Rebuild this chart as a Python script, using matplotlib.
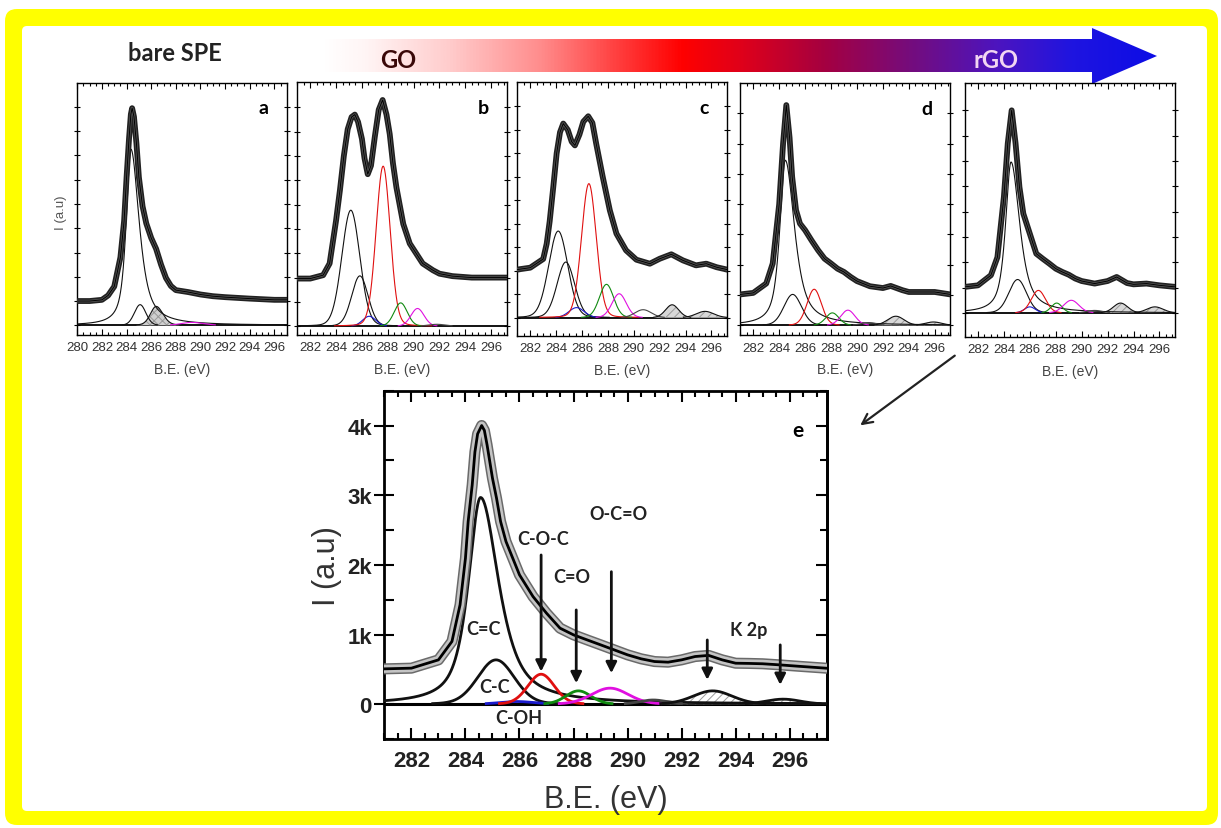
import numpy as np
import matplotlib
matplotlib.use("Agg")
import matplotlib.pyplot as plt
from matplotlib.patches import FancyBboxPatch, Polygon
from matplotlib.colors import LinearSegmentedColormap
from matplotlib.ticker import MultipleLocator

plt.rcParams['font.family'] = ['Liberation Sans', 'DejaVu Sans']
plt.rcParams['hatch.linewidth'] = 0.7

W, H = 1221, 829

# ---------------- data ----------------
# measured C1s envelopes: binding energy (eV) / intensity (panel units)
a_env_x = [280, 281, 282, 282.5, 283, 283.5, 283.8, 284, 284.2, 284.35, 284.45, 284.6, 284.8, 285,
           285.3, 285.6, 286, 286.4, 286.8, 287.2, 287.6, 288, 289, 290, 291, 292, 294, 296, 297]
a_env_y = [1.0, 1.0, 1.05, 1.23, 1.6, 2.8, 4.3, 6.1, 7.7, 8.7, 8.95, 8.6, 7.5, 6.1,
           4.9, 4.2, 3.6, 3.15, 2.5, 1.95, 1.62, 1.45, 1.37, 1.27, 1.2, 1.16, 1.1, 1.05, 1.05]

b_env_x = [281, 282, 283, 283.5, 284, 284.3, 284.6, 284.9, 285.2, 285.45, 285.7, 286, 286.2, 286.45,
           286.7, 287, 287.3, 287.6, 287.9, 288.15, 288.4, 288.67, 289.2, 289.7, 290.7, 291.5, 292,
           293, 294.5, 296, 297.2]
b_env_y = [1.96, 1.96, 2.1, 2.58, 4.35, 5.6, 7.0, 8.1, 8.6, 8.7, 8.4, 7.7, 6.9, 6.25,
           6.6, 7.8, 8.9, 9.3, 8.7, 7.9, 6.7, 5.7, 4.2, 3.4, 2.58, 2.3, 2.16,
           2.06, 2.0, 2.0, 2.0]

c_env_x = [281, 282, 283, 283.27, 283.5, 283.78, 284.04, 284.3, 284.55, 284.9, 285.2, 285.45, 285.8,
           286.1, 286.48, 286.8, 287.1, 287.6, 288.15, 288.66, 289.4, 290.2, 291.24, 292, 292.9,
           293.8, 294.8, 295.6, 296.4, 297.2]
c_env_y = [2.05, 2.13, 2.5, 3.15, 4.1, 5.57, 7.0, 7.9, 8.27, 8.0, 7.5, 7.34, 7.8,
           8.35, 8.58, 8.3, 7.4, 6.0, 4.57, 3.58, 2.87, 2.47, 2.3, 2.51, 2.7,
           2.44, 2.23, 2.3, 2.15, 2.05]

d_env_x = [281, 282, 283, 283.5, 284, 284.3, 284.55, 284.8, 285, 285.3, 285.6, 286, 286.5, 287,
           287.5, 288, 288.5, 289, 289.5, 290, 291, 292, 292.6, 293.5, 294, 295, 296, 297.2]
d_env_y = [1.02, 1.07, 1.38, 2.04, 4.0, 6.0, 7.27, 6.2, 4.9, 3.8, 3.36, 3.14, 2.8, 2.48,
           2.2, 2.04, 1.87, 1.76, 1.6, 1.46, 1.29, 1.23, 1.3, 1.16, 1.1, 1.1, 1.1, 1.02]

f_env_x = [281, 282, 283, 283.5, 284, 284.3, 284.6, 284.9, 285.2, 285.5, 286, 286.5, 287, 287.5,
           288, 288.5, 289, 289.5, 290, 291, 292, 292.7, 293.5, 294, 295, 296, 297.2]
f_env_y = [1.03, 1.09, 1.49, 2.2, 4.58, 6.7, 8.0, 6.7, 4.97, 3.92, 3.13, 2.34, 2.14, 1.95,
           1.75, 1.62, 1.51, 1.36, 1.26, 1.16, 1.26, 1.42, 1.18, 1.13, 1.16, 1.09, 1.03]

e_env_x = [281, 282, 283, 283.5, 283.8, 284, 284.1, 284.25, 284.35, 284.45, 284.6, 284.7, 284.8,
           284.9, 285, 285.15, 285.3, 285.5, 286, 286.5, 287, 287.5, 288, 288.5, 289, 289.5, 290,
           290.5, 291, 291.5, 292, 292.5, 293, 293.5, 294, 294.5, 295, 295.6, 296.3, 297.37]
e_env_y = [507, 517, 636, 900, 1426, 2096, 2622, 3148, 3620, 3880, 4000, 3930, 3722,
           3483, 3244, 2957, 2622, 2335, 1856, 1545, 1306, 1091, 995, 923, 852, 780, 708,
           651, 612, 603, 636, 684, 700, 636, 588, 585, 580, 565, 545, 516]

# fitted components: kind, centre (eV), height, left/right half widths, lorentz fraction
a_kind = ['C=C', 'C-C', 'shade', 'O-C=O']
a_pos = [284.35, 285.1, 286.4, 289.3]
a_height = [7.26, 0.85, 0.78, 0.12]
a_hwl = [0.45, 0.55, 0.55, 1.0]
a_hwr = [0.8, 0.55, 0.65, 1.1]
a_eta = [0.75, 0.1, 0.2, 0.2]

b_kind = ['C=C', 'C-C', 'C-OH', 'C-O-C', 'C=O', 'O-C=O', 'pi']
b_pos = [285.14, 285.84, 286.56, 287.64, 289.0, 290.3, 291.8]
b_height = [4.77, 2.07, 0.41, 6.58, 0.96, 0.73, 0.08]
b_hwl = [0.82, 0.75, 0.6, 0.64, 0.6, 0.6, 0.8]
b_hwr = [0.82, 0.75, 0.6, 0.64, 0.6, 0.6, 0.8]
b_eta = [0.1, 0.1, 0.1, 0.1, 0.1, 0.1, 0.1]

c_kind = ['C=C', 'C-C', 'C-OH', 'C-O-C', 'C=O', 'O-C=O', 'pi', 'K2p', 'K2p']
c_pos = [284.16, 284.75, 285.58, 286.53, 287.89, 288.87, 290.72, 292.96, 295.5]
c_height = [3.69, 2.37, 0.43, 5.71, 1.42, 1.02, 0.34, 0.55, 0.27]
c_hwl = [0.87, 0.8, 0.7, 0.67, 0.65, 0.65, 0.75, 0.6, 0.8]
c_hwr = [0.87, 0.8, 0.7, 0.67, 0.65, 0.65, 0.75, 0.6, 0.8]
c_eta = [0.1, 0.1, 0.1, 0.1, 0.1, 0.1, 0.1, 0.1, 0.1]

d_kind = ['C=C', 'C-C', 'C-O-C', 'C=O', 'O-C=O', 'pi', 'K2p', 'K2p']
d_pos = [284.47, 285.04, 286.7, 288.1, 289.3, 290.9, 293.0, 295.9]
d_height = [5.45, 1.02, 1.19, 0.41, 0.5, 0.09, 0.3, 0.11]
d_hwl = [0.5, 0.8, 0.65, 0.6, 0.65, 0.7, 0.75, 0.75]
d_hwr = [0.85, 0.8, 0.65, 0.6, 0.65, 0.7, 0.75, 0.75]
d_eta = [0.75, 0.1, 0.1, 0.1, 0.1, 0.1, 0.1, 0.1]

f_kind = ['C=C', 'C-C', 'C-OH', 'C-O-C', 'C=O', 'O-C=O', 'pi', 'K2p', 'K2p']
f_pos = [284.55, 285.06, 286.0, 286.66, 288.07, 289.2, 291.0, 293.0, 295.65]
f_height = [5.96, 1.32, 0.24, 0.89, 0.39, 0.5, 0.1, 0.39, 0.24]
f_hwl = [0.5, 0.8, 0.5, 0.65, 0.5, 0.7, 0.7, 0.65, 0.75]
f_hwr = [0.8, 0.8, 0.5, 0.65, 0.5, 0.7, 0.7, 0.65, 0.75]
f_eta = [0.75, 0.1, 0.1, 0.1, 0.1, 0.1, 0.1, 0.1, 0.1]

e_kind = ['C=C', 'C-C', 'C-OH', 'C-O-C', 'C=O', 'O-C=O', 'pi', 'K2p', 'K2p']
e_pos = [284.56, 285.13, 285.9, 286.8, 288.18, 289.35, 290.95, 293.15, 295.76]
e_height = [2967, 636, 38, 430, 191, 230, 60, 191, 72]
e_hwl = [0.54, 0.8, 0.75, 0.58, 0.55, 0.8, 0.6, 0.85, 0.75]
e_hwr = [0.8, 0.8, 0.75, 0.58, 0.55, 0.8, 0.6, 0.85, 0.75]
e_eta = [0.75, 0.1, 0.1, 0.1, 0.1, 0.1, 0.1, 0.1, 0.1]

# peak labels and marker arrows of panel e
e_labels = ['C=C', 'C-C', 'C-OH', 'C-O-C', 'C=O', 'O-C=O', 'K 2p']
e_label_x = [284.66, 285.09, 285.96, 286.88, 287.93, 289.66, 294.47]
e_label_y = [1090, 252, -192, 2382, 1831, 2740, 1076]
e_arrow_x = [286.8, 288.1, 289.4, 292.95, 295.65]
e_arrow_top = [2142, 1353, 1902, 922, 851]
e_arrow_tip = [468, 301, 445, 349, 277]

KIND_COLOR = {'C=C': '#111111', 'C-C': '#111111', 'C-OH': '#1a1acc', 'C-O-C': '#e01010',
              'C=O': '#108a10', 'O-C=O': '#e010e0', 'pi': '#444444', 'K2p': '#111111',
              'shade': '#111111'}


def peak(x, c, h, hl, hr, eta):
    hw = np.where(x < c, hl, hr)
    t = (x - c) / hw
    return h * (eta / (1 + t ** 2) + (1 - eta) * np.exp(-np.log(2) * t ** 2))


def px_rect(x0, y0, x1, y1):
    return [x0 / W, 1 - y1 / H, (x1 - x0) / W, (y1 - y0) / H]


def draw_spectrum(ax, env_x, env_y, kind, pos, height, hwl, hwr, eta, xlim, big=False):
    x = np.linspace(xlim[0], xlim[1], 1200)
    ymax = max(env_y)
    ax.axhline(0, color='k', lw=2.2 if big else 1.3, zorder=1)
    for k, c, h, l, r, e in zip(kind, pos, height, hwl, hwr, eta):
        y = peak(x, c, h, l, r, e)
        m = y > 0.002 * ymax
        if k == 'K2p':
            ax.fill_between(x[m], 0, y[m], facecolor='white' if big else '#d8d8d8',
                            hatch='////', edgecolor='#999999', lw=0, zorder=2)
        elif k == 'shade':
            ax.fill_between(x[m], 0, y[m], facecolor='#cfcfcf', hatch='xxxx',
                            edgecolor='#999999', lw=0, zorder=2)
        ax.plot(x[m], y[m], color=KIND_COLOR[k], lw=2.0 if big else 0.8, zorder=3)
    if big:
        ax.plot(env_x, env_y, color='#6a6a6a', lw=8, zorder=4)
        ax.plot(env_x, env_y, color='#c4c4c4', lw=5.8, zorder=4)
        ax.plot(env_x, env_y, color='k', lw=2.0, zorder=5)
    else:
        ax.plot(env_x, env_y, color='#222222', lw=4.2, zorder=4)
        ax.plot(env_x, env_y, color='#555555', lw=1.8, zorder=4)
        ax.plot(env_x, env_y, color='k', lw=0.7, zorder=5)
    ax.set_xlim(*xlim)


fig = plt.figure(figsize=(W / 100, H / 100), dpi=100)

# background frame, title arrow
bg = fig.add_axes([0, 0, 1, 1])
bg.axis('off')
bg.add_patch(FancyBboxPatch((5, 10), 1213, 816, boxstyle='round,pad=0,rounding_size=12',
                            fc='#ffff00', ec='none', zorder=0))
bg.add_patch(FancyBboxPatch((22, 27), 1185, 785, boxstyle='round,pad=0,rounding_size=5',
                            fc='white', ec='none', zorder=0.5))
stops = [(0.0, (1, 1, 1)), (0.05, (1, 0.96, 0.96)), (0.15, (1, 0.8, 0.8)), (0.26, (1, 0.55, 0.55)),
         (0.36, (1, 0.22, 0.22)), (0.43, (1, 0, 0)), (0.5, (0.88, 0, 0.1)), (0.6, (0.65, 0, 0.25)),
         (0.71, (0.45, 0.05, 0.5)), (0.81, (0.3, 0.08, 0.75)), (0.9, (0.12, 0.08, 0.88)),
         (1.0, (0.05, 0.05, 0.9))]
cmap = LinearSegmentedColormap.from_list('go_rgo', stops)
arrow_poly = Polygon([(323, 40), (1092, 40), (1092, 29), (1157, 57), (1092, 85), (1092, 73), (323, 73)],
                     closed=True, fc='none', ec='none')
bg.add_patch(arrow_poly)
im = bg.imshow(np.linspace(0, 1, 512)[None, :], cmap=cmap, extent=(323, 1157, 85, 29),
               aspect='auto', interpolation='bilinear', zorder=2)
im.set_clip_path(arrow_poly)
bg.set_xlim(0, W)
bg.set_ylim(H, 0)
bg.text(175, 53, 'bare SPE', fontsize=17, fontweight='bold', family=['Lato', 'DejaVu Sans'],
        color='#222222', ha='center', va='center', zorder=3)
bg.text(398, 60, 'GO', fontsize=17, fontweight='bold', family=['Lato', 'DejaVu Sans'],
        color='#3a0808', ha='center', va='center', zorder=3)
bg.text(996, 60, 'rGO', fontsize=17, fontweight='bold', family=['Lato', 'DejaVu Sans'],
        color='#f2d6f2', ha='center', va='center', zorder=3)
bg.text(61, 213, 'I (a.u)', fontsize=9.5, color='#555555', rotation=90, ha='center', va='center')
bg.annotate('', xy=(858, 428), xytext=(957, 355),
            arrowprops=dict(arrowstyle='->', color='#222222', lw=1.6, mutation_scale=18))

# five small panels
small = [
    (px_rect(77.3, 83.7, 286.7, 336), (280, 297), (-0.4, 10.0), 'a',
     a_env_x, a_env_y, a_kind, a_pos, a_height, a_hwl, a_hwr, a_eta),
    (px_rect(297.3, 83, 506.7, 336), (281, 297.2), (-0.36, 10.04), 'b',
     b_env_x, b_env_y, b_kind, b_pos, b_height, b_hwl, b_hwr, b_eta),
    (px_rect(517.3, 83, 727.0, 337), (281, 297.2), (-0.78, 10.04), 'c',
     c_env_x, c_env_y, c_kind, c_pos, c_height, c_hwl, c_hwr, c_eta),
    (px_rect(740.3, 84, 950.3, 336.3), (281, 297.2), (-0.33, 8.0), 'd',
     d_env_x, d_env_y, d_kind, d_pos, d_height, d_hwl, d_hwr, d_eta),
    (px_rect(965, 84, 1175, 338), (281, 297.2), (-0.95, 9.08), '',
     f_env_x, f_env_y, f_kind, f_pos, f_height, f_hwl, f_hwr, f_eta),
]
for rect, xlim, ylim, letter, ex, ey, kd, ps, ht, hl, hr, et in small:
    ax = fig.add_axes(rect)
    draw_spectrum(ax, ex, ey, kd, ps, ht, hl, hr, et, xlim)
    ax.set_ylim(*ylim)
    ax.set_yticks(range(0, int(ylim[1])))
    ax.xaxis.set_major_locator(MultipleLocator(2))
    ax.xaxis.set_minor_locator(MultipleLocator(0.5))
    ax.tick_params(axis='x', which='both', direction='in', top=True, bottom=True,
                   labelsize=9.5, labelcolor='#333333', pad=4.5, width=0.8)
    ax.tick_params(axis='x', which='major', length=4)
    ax.tick_params(axis='x', which='minor', length=2.5)
    ax.tick_params(axis='y', direction='inout', left=True, right=True, labelleft=False,
                   length=5, width=0.8)
    for lab in ax.get_xticklabels():
        lab.set_fontfamily(['Liberation Sans Narrow', 'Liberation Sans'])
    for s in ax.spines.values():
        s.set_linewidth(1.0)
    ax.set_xlabel('B.E. (eV)', fontsize=10, color='#444444', labelpad=6)
    if letter:
        ax.text(0.89, 0.9, letter, transform=ax.transAxes, fontsize=14, fontweight='bold',
                family=['Lato', 'DejaVu Sans'], ha='center', va='center')

# large panel e
ax = fig.add_axes(px_rect(384.4, 391.7, 826.7, 740))
draw_spectrum(ax, e_env_x, e_env_y, e_kind, e_pos, e_height, e_hwl, e_hwr, e_eta,
              (281, 297.37), big=True)
ax.set_ylim(-500, 4500)
ax.set_yticks([0, 1000, 2000, 3000, 4000], ['0', '1k', '2k', '3k', '4k'])
ax.yaxis.set_minor_locator(MultipleLocator(500))
ax.xaxis.set_major_locator(MultipleLocator(2))
ax.xaxis.set_minor_locator(MultipleLocator(0.5))
ax.tick_params(axis='x', which='both', direction='in', top=True, bottom=True, width=1.5, pad=8)
ax.tick_params(axis='x', which='major', length=8, labelsize=16)
ax.tick_params(axis='x', which='minor', length=4)
ax.tick_params(axis='y', which='major', direction='inout', length=14, width=1.5, labelsize=16, pad=2)
ax.tick_params(axis='y', which='minor', direction='in', length=7, width=1.5)
for lab in ax.get_xticklabels() + ax.get_yticklabels():
    lab.set_fontweight('bold')
    lab.set_color('#222222')
sec = ax.secondary_yaxis('right')
sec.set_yticks([0, 1000, 2000, 3000, 4000])
sec.yaxis.set_minor_locator(MultipleLocator(500))
sec.tick_params(which='major', direction='in', length=8, width=1.5, labelright=False)
sec.tick_params(which='minor', direction='in', length=5, width=1.5)
sec.spines['right'].set_linewidth(2)
for s in ax.spines.values():
    s.set_linewidth(2)
ax.set_xlabel('B.E. (eV)', fontsize=22, color='#333333', labelpad=9)
ax.set_ylabel('I (a.u)', fontsize=22, color='#333333', labelpad=4)
for txt, lx, ly in zip(e_labels, e_label_x, e_label_y):
    ax.text(lx, ly, txt, fontsize=13, fontweight='bold', family=['Lato', 'DejaVu Sans'],
            color='#222222', ha='center', va='center', zorder=6)
for axx, top, tip in zip(e_arrow_x, e_arrow_top, e_arrow_tip):
    ax.annotate('', xy=(axx, tip), xytext=(axx, top), zorder=7,
                arrowprops=dict(arrowstyle='-|>', color='#111111', lw=2,
                                mutation_scale=16, shrinkA=0, shrinkB=0))
ax.text(296.31, 3935, 'e', fontsize=15, fontweight='bold', family=['Lato', 'DejaVu Sans'],
        ha='center', va='center')

fig.savefig('out.png', dpi=100)
